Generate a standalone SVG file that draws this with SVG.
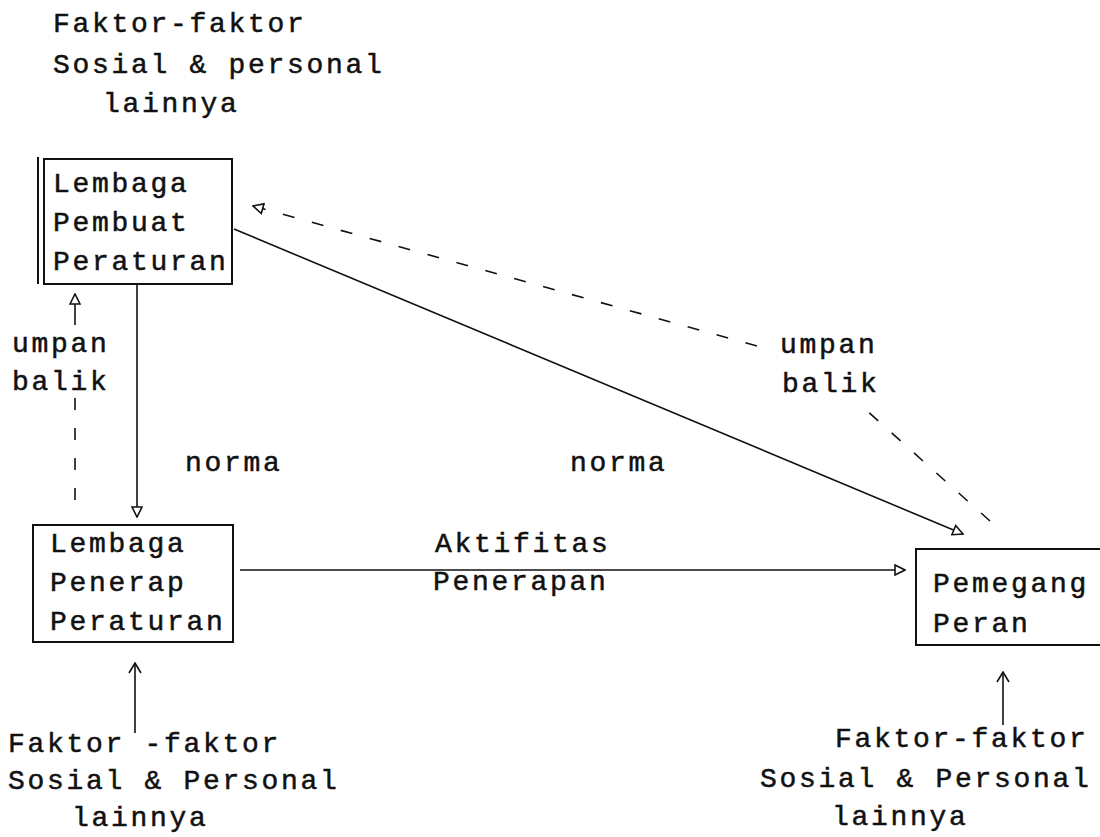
<svg xmlns="http://www.w3.org/2000/svg" width="1100" height="837" viewBox="0 0 1100 837">
  <defs>
    <style>
      text { font-family: "Liberation Mono", "DejaVu Sans Mono", monospace; font-size: 28px; letter-spacing: 2.7px; fill: #111; stroke: #111; stroke-width: 0.5px; }
      .box { fill: none; stroke: #111; stroke-width: 2; }
      .link { fill: none; stroke: #111; stroke-width: 1.6; }
      .dash { stroke-dasharray: 12 18; }
    </style>
    <marker id="hollow" viewBox="0 0 12 12" refX="11" refY="6" markerWidth="12" markerHeight="12" markerUnits="userSpaceOnUse" orient="auto">
      <path d="M1,1 L11,6 L1,11 Z" fill="#fff" stroke="#111" stroke-width="1.6"/>
    </marker>
    <marker id="open" viewBox="0 0 12 14" refX="11" refY="7" markerWidth="12" markerHeight="14" markerUnits="userSpaceOnUse" orient="auto">
      <path d="M1,1 L11,7 L1,13" fill="none" stroke="#111" stroke-width="1.6"/>
    </marker>
  </defs>

  <rect width="1100" height="837" fill="#fff"/>

  <!-- free-standing factor labels -->
  <g id="faktor-atas">
    <text x="53" y="32">Faktor-faktor</text>
    <text x="53" y="73">Sosial &amp; personal</text>
    <text x="103" y="112">lainnya</text>
  </g>
  <g id="faktor-kiri">
    <text x="8" y="752">Faktor -faktor</text>
    <text x="8" y="789">Sosial &amp; Personal</text>
    <text x="72" y="826">lainnya</text>
  </g>
  <g id="faktor-kanan">
    <text x="835" y="747">Faktor-faktor</text>
    <text x="760" y="787">Sosial &amp; Personal</text>
    <text x="832" y="825">lainnya</text>
  </g>

  <!-- nodes -->
  <g id="pembuat">
    <path class="box" d="M38,157 V284 M44,159 H232 V284 H44 Z"/>
    <text x="53" y="192">Lembaga</text>
    <text x="53" y="231">Pembuat</text>
    <text x="53" y="270">Peraturan</text>
  </g>
  <g id="penerap">
    <rect class="box" x="33" y="525" width="200" height="117"/>
    <text x="50" y="552">Lembaga</text>
    <text x="50" y="591">Penerap</text>
    <text x="50" y="630">Peraturan</text>
  </g>
  <g id="pemegang">
    <path class="box" d="M1100,549 H916 V645 H1100"/>
    <text x="933" y="592">Pemegang</text>
    <text x="933" y="632">Peran</text>
  </g>

  <!-- connectors -->
  <g id="connectors">
    <line class="link" x1="137" y1="284" x2="137" y2="517" marker-end="url(#hollow)"/>
    <line class="link dash" x1="75" y1="500" x2="75" y2="398"/>
    <line class="link" x1="75" y1="325" x2="75" y2="294" marker-end="url(#hollow)"/>
    <line class="link" x1="240" y1="570" x2="905" y2="570" marker-end="url(#hollow)"/>
    <line class="link" x1="234" y1="229" x2="963" y2="534" marker-end="url(#hollow)"/>
    <line class="link dash" x1="990" y1="521" x2="866" y2="410"/>
    <line class="link dash" x1="757" y1="346" x2="253" y2="206" marker-end="url(#hollow)"/>
    <line class="link" x1="135" y1="733" x2="135" y2="663" marker-end="url(#open)"/>
    <line class="link" x1="1003" y1="725" x2="1003" y2="672" marker-end="url(#open)"/>

    <text x="12" y="352">umpan</text>
    <text x="12" y="390">balik</text>
    <text x="185" y="471">norma</text>
    <text x="570" y="471">norma</text>
    <text x="780" y="353">umpan</text>
    <text x="782" y="392">balik</text>
    <text x="435" y="552">Aktifitas</text>
    <text x="433" y="590">Penerapan</text>
  </g>
</svg>
